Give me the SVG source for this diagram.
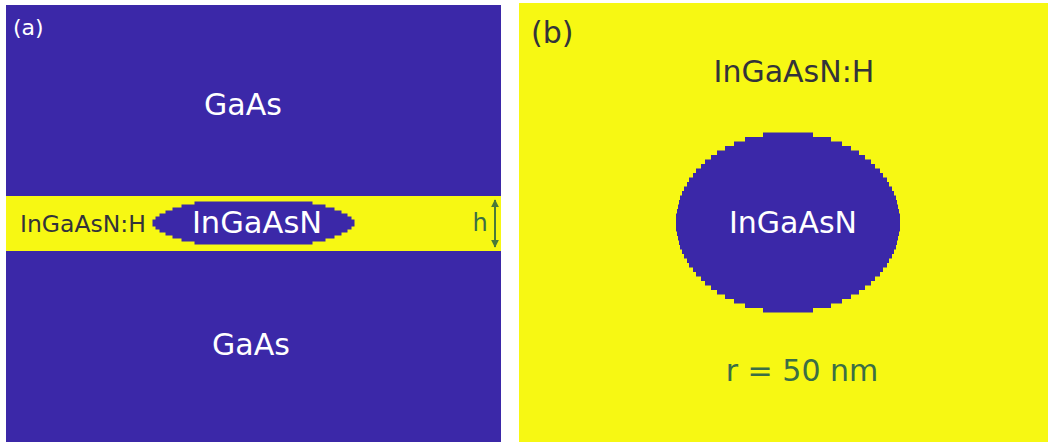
<svg xmlns="http://www.w3.org/2000/svg" width="1050" height="442" viewBox="0 0 1050 442">
<defs>
<style>
.blue{fill:#3b28a8}
.yellow{fill:#f7f813}
text{font-family:"DejaVu Sans","Liberation Sans",sans-serif}
.w{fill:#ffffff}
.d{fill:#33333a}
.g{fill:#3b6e45}
</style>
<marker id="ah" viewBox="0 0 10 10" refX="9" refY="5" markerWidth="8" markerHeight="8" orient="auto-start-reverse" markerUnits="userSpaceOnUse">
<path d="M0,0 L10,5 L0,10 z" fill="#4a7a3a"/>
</marker>
</defs>
<rect width="1050" height="442" fill="#ffffff"/>
<g id="panel-a">
<rect class="blue" x="6" y="5" width="495" height="437"/>
<rect class="yellow" x="6" y="196" width="495" height="55"/>
<text class="w" x="13" y="35" font-size="22">(a)</text>
</g>
<g id="gaas-top"><text class="w" x="243" y="115" font-size="30" text-anchor="middle">GaAs</text></g>
<g id="gaas-bottom"><text class="w" x="251" y="355" font-size="30" text-anchor="middle">GaAs</text></g>
<g id="ingaasnh-a"><text class="d" x="83" y="232" font-size="23.5" text-anchor="middle">InGaAsN:H</text></g>
<g id="lens-a">
<path class="blue" d="M194.5,201.5 H312.5 V204.5 H325.5 V207.5 H334.5 V210.5 H341.5 V213.5 H347.5 V216.5 H351.5 V219.5 H354.5 V226.5 H351.5 V229.5 H347.5 V232.5 H341.5 V235.5 H334.5 V238.5 H325.5 V241.5 H312.5 V244.5 H194.5 V241.5 H181.5 V238.5 H172.5 V235.5 H165.5 V232.5 H159.5 V229.5 H155.5 V226.5 H152.5 V219.5 H155.5 V216.5 H159.5 V213.5 H165.5 V210.5 H172.5 V207.5 H181.5 V204.5 H194.5 Z"/>
<text class="w" x="257" y="233" font-size="30.5" text-anchor="middle">InGaAsN</text>
</g>
<g id="h-label"><text class="g" x="480" y="231" font-size="24" text-anchor="middle">h</text></g>
<g id="connectors">
<line x1="495" y1="200" x2="495" y2="247" stroke="#4a7a3a" stroke-width="2" marker-start="url(#ah)" marker-end="url(#ah)"/>
</g>
<g id="panel-b">
<rect class="yellow" x="519" y="3" width="529" height="439"/>
<text class="d" x="531" y="43" font-size="30">(b)</text>
</g>
<g id="ingaasnh-b"><text class="d" x="794" y="82" font-size="30" text-anchor="middle">InGaAsN:H</text></g>
<g id="disk-b">
<path class="blue" d="M763,132.5 H813 V137 H831 V141.5 H842 V146 H851 V150.5 H859 V155 H865 V159.5 H871 V164 H875 V168.5 H880 V173 H883 V177.5 H887 V182 H889 V186.5 H892 V191 H894 V195.5 H896 V200 H897 V204.5 H898 V209 H899 V213.5 H900 V231.5 H899 V236 H898 V240.5 H897 V245 H896 V249.5 H894 V254 H892 V258.5 H889 V263 H887 V267.5 H883 V272 H880 V276.5 H875 V281 H871 V285.5 H865 V290 H859 V294.5 H851 V299 H842 V303.5 H831 V308 H813 V312.5 H763 V308 H745 V303.5 H734 V299 H725 V294.5 H717 V290 H711 V285.5 H705 V281 H701 V276.5 H696 V272 H693 V267.5 H689 V263 H687 V258.5 H684 V254 H682 V249.5 H680 V245 H679 V240.5 H678 V236 H677 V231.5 H676 V213.5 H677 V209 H678 V204.5 H679 V200 H680 V195.5 H682 V191 H684 V186.5 H687 V182 H689 V177.5 H693 V173 H696 V168.5 H701 V164 H705 V159.5 H711 V155 H717 V150.5 H725 V146 H734 V141.5 H745 V137 H763 Z"/>
<text class="w" x="793" y="233" font-size="30" text-anchor="middle">InGaAsN</text>
</g>
<g id="radius-label"><text class="g" x="802" y="381" font-size="30" text-anchor="middle">r = 50 nm</text></g>
</svg>
